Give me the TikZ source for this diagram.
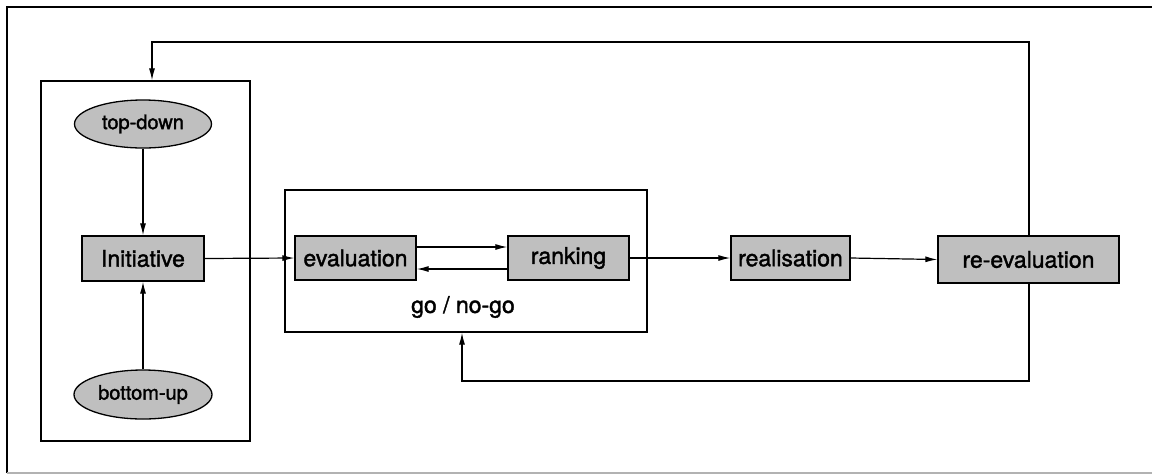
\documentclass[tikz,border=0pt]{standalone}
\usepackage{fontspec}
\setmainfont{TeX Gyre Heros}
\newfontfamily\heavyfont[FakeBold=1.6]{TeX Gyre Heros}
\usetikzlibrary{shapes.geometric,arrows.meta}
\begin{document}
\begin{tikzpicture}[x=1pt,y=-1pt,
  box/.style={draw=black,line width=1.3pt,fill=black!25,rectangle,inner sep=0pt,
    font=\heavyfont\fontsize{23}{26}\selectfont},
  oval/.style={draw=black,line width=1.3pt,fill=black!25,ellipse,inner sep=0pt,
    font=\heavyfont\fontsize{20}{24}\selectfont},
  frame/.style={draw=black,line width=1.3pt},
  conn/.style={draw=black,line width=1.2pt},
  arr/.style={conn,-{Latex[length=12pt,width=6pt]}}]
\useasboundingbox (0,0) rectangle (1152,475);
% outer frame
\draw[line width=2.4pt] (7,473) -- (7,7) -- (1152,7);
\draw[black!30,line width=2pt] (7,473) -- (1152,473);
% containers
\node[frame,rectangle,minimum width=209pt,minimum height=360pt,inner sep=0pt] (left) at (145.5,261) {};
\node[frame,rectangle,minimum width=362pt,minimum height=142pt,inner sep=0pt] (mid) at (466,261) {};
% nodes
\node[oval,minimum width=137pt,minimum height=48pt] (td) at (143,124) {top-down};
\node[oval,minimum width=138pt,minimum height=49pt] (bu) at (143,394.5) {bottom-up};
\node[box,minimum width=122pt,minimum height=45pt] (init) at (143,258.5) {Initiative};
\node[box,minimum width=121pt,minimum height=44pt] (eval) at (355.5,258) {evaluation};
\node[box,minimum width=121pt,minimum height=44pt] (rank) at (568.5,258) {ranking};
\node[box,minimum width=119pt,minimum height=44pt] (real) at (790.5,258) {realisation};
\node[box,minimum width=181pt,minimum height=47pt] (reev) at (1028.5,259.5) {re-evaluation};
\node[font=\heavyfont\fontsize{23}{26}\selectfont] (go) at (463,307) {go / no-go};
% connectors
\draw[arr] (td.south) -- (init.north);
\draw[arr] (bu.north) -- (init.south);
\draw[arr] (init.east) -- (eval.west);
\draw[arr] (eval.east |- 0,247) -- (rank.west |- 0,247);
\draw[arr] (rank.west |- 0,269) -- (eval.east |- 0,269);
\draw[arr] (rank.east) -- (real.west);
\draw[arr] (real.east) -- (reev.west);
\coordinate (tr) at (1029,42);
\coordinate (tl) at (152,42);
\draw[arr] (reev.north -| tr) -- (tr) -- (tl) -- (tl |- left.north);
\coordinate (br) at (1029,381);
\coordinate (bl) at (462,381);
\draw[arr] (reev.south -| br) -- (br) -- (bl) -- (bl |- mid.south);
\end{tikzpicture}
\end{document}
